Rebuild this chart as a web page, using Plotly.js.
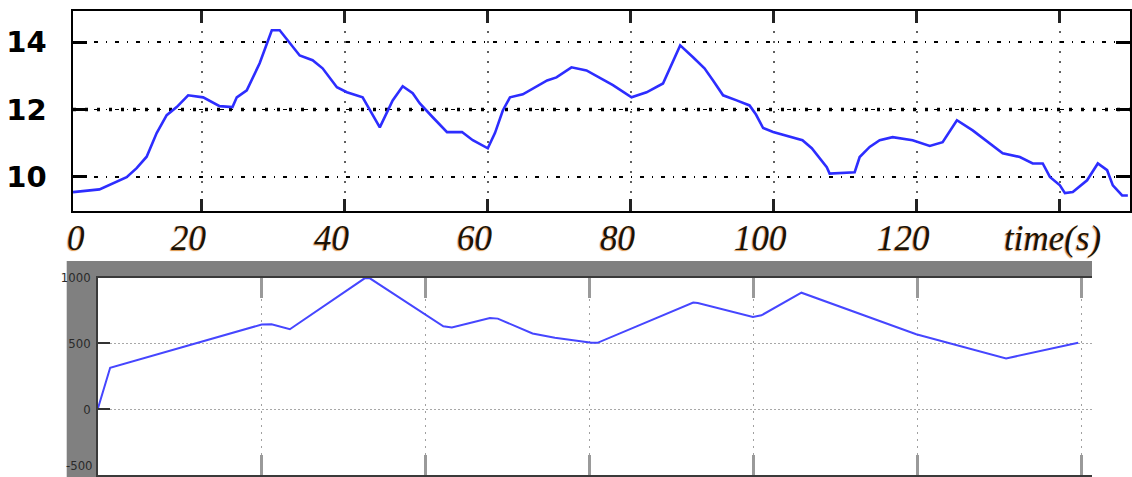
<!DOCTYPE html>
<html>
<head>
<meta charset="utf-8">
<script src="https://cdn.plot.ly/plotly-3.0.1.min.js"></script>
<style>html,body{margin:0;padding:0;background:#fff;}#chart{width:1132px;height:477px;}</style>
</head>
<body>
<div id="chart"></div>
<script>
// ---- data ----
const topTime = [2, 5.7, 9.5, 10.9, 12.3, 13.7, 15.1, 16.5, 18.1, 20.2, 22.5, 24.3, 24.9, 26.3, 28.1, 29.8, 30.9, 32.3, 33.7, 35.5, 36.9, 38.9, 40.3, 42.5, 43.5, 44.9, 46.7, 48.1, 49.5, 50.5, 52.3, 54.3, 56.4, 57.9, 60, 61, 62.1, 63.1, 64.9, 68.3, 69.6, 71.7, 73.8, 77.5, 80.1, 82.2, 84.5, 85.5, 86.9, 88.7, 90.3, 91.5, 92.9, 94.8, 96.6, 97.5, 98.5, 99.9, 104, 105.3, 107.4, 107.8, 111.3, 112, 113.4, 114.8, 116.6, 119.4, 121.8, 123.6, 125.6, 127.8, 130.2, 132, 134.4, 136.2, 137.6, 138.6, 140, 140.7, 141.8, 143.8, 145.3, 146.6, 147.4, 148.7, 149.5];
const topValue = [9.55, 9.63, 9.99, 10.26, 10.6, 11.3, 11.83, 12.07, 12.42, 12.36, 12.1, 12.07, 12.36, 12.57, 13.37, 14.35, 14.35, 13.96, 13.6, 13.46, 13.22, 12.66, 12.51, 12.36, 11.97, 11.47, 12.27, 12.69, 12.48, 12.18, 11.77, 11.33, 11.33, 11.09, 10.85, 11.3, 11.97, 12.36, 12.45, 12.86, 12.95, 13.25, 13.16, 12.72, 12.36, 12.51, 12.77, 13.25, 13.9, 13.55, 13.22, 12.86, 12.42, 12.27, 12.12, 11.85, 11.45, 11.33, 11.09, 10.85, 10.29, 10.1, 10.14, 10.59, 10.89, 11.09, 11.18, 11.09, 10.92, 11.03, 11.68, 11.38, 11.0, 10.7, 10.59, 10.4, 10.4, 10.0, 9.75, 9.52, 9.55, 9.9, 10.4, 10.2, 9.75, 9.45, 9.45];

const bottomTime = [0, 1.9, 25, 26.5, 29.3, 40.7, 41.5, 52.7, 54, 59.8, 61, 66.3, 69.7, 75.3, 76.2, 90.8, 91.5, 99.9, 101.2, 107.3, 124.8, 138.5, 149.5];
const bottomValue = [0, 315, 644, 646, 608, 995, 995, 631, 621, 694, 689, 576, 543, 505, 505, 811, 808, 702, 714, 886, 570, 386, 505];

const topXTickVals = [0, 20, 40, 60, 80, 100, 120];
const topXTickText = ['0', '20', '40', '60', '80', '100', '120'];
const topYTickVals = [10, 12, 14];
const topYTickText = ['10', '12', '14'];
const bottomYTickVals = [-500, 0, 500, 1000];
const bottomYTickText = ['-500', '0', '500', '1000'];
const xAxisLabel = '<i>time</i>(s)';

// ---- layout helpers ----
const W = 1132, H = 477;
const topX = [73 / W, 1130 / W];
const topY = [1 - 211 / H, 1 - 11 / H];
const botX = [97.7 / W, 1092 / W];
const botY = [1 - 475 / H, 1 - 277.7 / H];
const topRange = [2, 149.8];

const labelFont = {family: 'Liberation Serif, Times New Roman, serif', size: 35, style: 'italic', color: '#1a1208',
  shadow: '-1px 1px 1px rgba(215,130,40,0.85)'};
const smallFont = {family: 'Liberation Sans Narrow, DejaVu Sans Condensed, Arial Narrow, sans-serif', size: 13, color: '#2a2a2a'};

const annotations = topXTickVals.map((v, i) => {
  const inRange = v >= topRange[0];
  return {
    x: inRange ? v : topRange[0], xref: 'x', y: 1 - 238 / H, yref: 'paper',
    text: topXTickText[i], showarrow: false,
    xanchor: inRange ? 'center' : 'left', yanchor: 'middle',
    xshift: inRange ? -13 : -8, font: labelFont
  };
});
annotations.push({
  x: 1052 / W, xref: 'paper', y: 1 - 238 / H, yref: 'paper', text: xAxisLabel,
  showarrow: false, xanchor: 'center', yanchor: 'middle', font: labelFont
});
// bottom-edge label of the lower scope, kept just inside the picture
annotations.push({
  x: botX[0], xref: 'paper', y: bottomYTickVals[0], yref: 'y2', text: bottomYTickText[0],
  showarrow: false, xanchor: 'right', yanchor: 'bottom', xshift: -3, yshift: 0,
  font: smallFont
});

const traces = [
  {x: topTime, y: topValue, xaxis: 'x', yaxis: 'y', type: 'scatter', mode: 'lines',
   line: {color: 'rgb(45,45,255)', width: 2.6}, hoverinfo: 'skip'},
  {x: bottomTime, y: bottomValue, xaxis: 'x2', yaxis: 'y2', type: 'scatter', mode: 'lines',
   line: {color: 'rgb(70,70,255)', width: 2}, hoverinfo: 'skip'}
];

const layout = {
  width: W, height: H,
  margin: {l: 0, r: 0, t: 0, b: 0, pad: 0},
  paper_bgcolor: '#ffffff', plot_bgcolor: 'rgba(0,0,0,0)',
  showlegend: false,
  xaxis: {
    domain: topX, anchor: 'y', range: topRange, tick0: 0, dtick: 20,
    showgrid: true, gridcolor: '#606060', gridwidth: 2, griddash: '2px,8px',
    showline: true, linecolor: '#000', linewidth: 2, mirror: 'ticks',
    ticks: 'inside', ticklen: 12, tickwidth: 3, tickcolor: '#222',
    showticklabels: false, zeroline: false, fixedrange: true
  },
  yaxis: {
    domain: topY, anchor: 'x', range: [8.99, 14.92],
    tickvals: topYTickVals, ticktext: topYTickText,
    showgrid: true, gridcolor: '#000', gridwidth: 1.5, griddash: '4px,8px,1px,8px',
    showline: true, linecolor: '#000', linewidth: 2.5, mirror: 'ticks',
    ticks: 'inside', ticklen: 14, tickwidth: 3, tickcolor: '#000',
    ticklabelstandoff: 18,
    tickfont: {family: 'DejaVu Sans, Arial, sans-serif', size: 29, weight: 'bold', color: '#000'},
    zeroline: false, fixedrange: true
  },
  xaxis2: {
    domain: botX, anchor: 'y2', range: [0, 151.6], tick0: 0, dtick: 25,
    showgrid: true, gridcolor: '#a0a0a0', gridwidth: 1.5, griddash: '2px,5px',
    showline: true, linecolor: '#3a3a3a', linewidth: 1.5, mirror: 'ticks',
    ticks: 'inside', ticklen: 20, tickwidth: 3, tickcolor: '#9a9a9a',
    showticklabels: false, zeroline: false, fixedrange: true
  },
  yaxis2: {
    domain: botY, anchor: 'x2', range: [-500, 1000],
    tickvals: bottomYTickVals.slice(1), ticktext: bottomYTickText.slice(1),
    showgrid: true, gridcolor: '#a8a8a8', gridwidth: 1, griddash: '2px,2px',
    showline: true, linecolor: '#3a3a3a', linewidth: 1.5,
    ticks: 'inside', ticklen: 12, tickwidth: 2, tickcolor: '#333',
    ticklabelstandoff: 3,
    tickfont: smallFont,
    zeroline: false, fixedrange: true
  },
  shapes: [
    // grey frame of the lower scope window
    {type: 'rect', xref: 'paper', yref: 'paper', x0: 66.7 / W, x1: 1092 / W, y0: 0, y1: 1 - 261 / H,
     fillcolor: '#808080', line: {width: 0}, layer: 'below'},
    {type: 'rect', xref: 'paper', yref: 'paper', x0: botX[0], x1: botX[1], y0: botY[0], y1: botY[1],
     fillcolor: '#ffffff', line: {width: 0}, layer: 'below'},
    // emphasised 12 grid line in the upper panel
    {type: 'line', xref: 'x', yref: 'y', x0: topRange[0], x1: topRange[1], y0: 12, y1: 12,
     line: {color: '#000', width: 3.5, dash: '3px,9px'}, layer: 'below'}
  ],
  annotations: annotations
};

Plotly.newPlot('chart', traces, layout, {displayModeBar: false, staticPlot: true});
</script>
</body>
</html>
